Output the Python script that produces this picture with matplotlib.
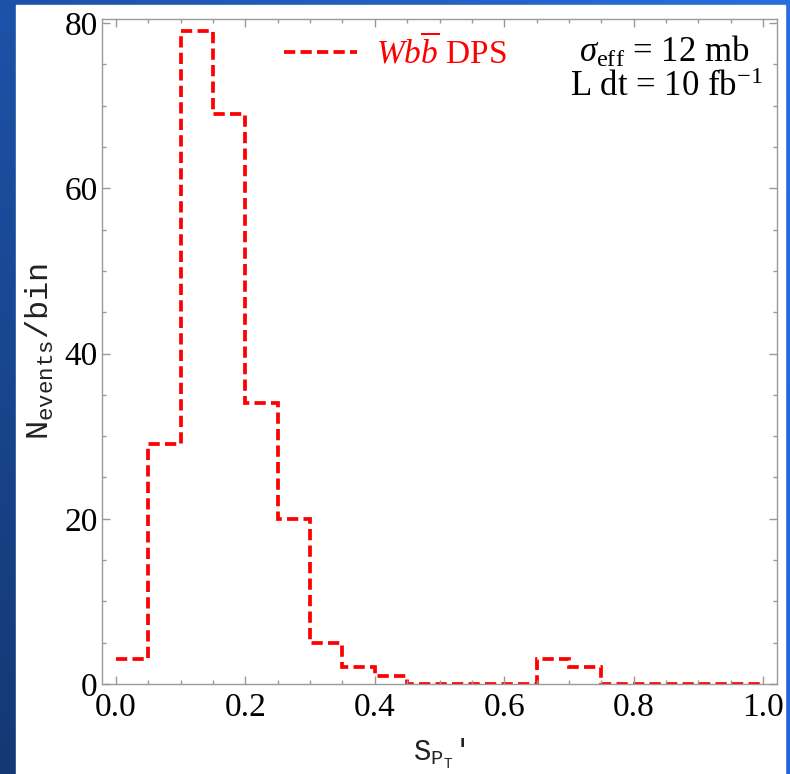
import numpy as np
import matplotlib
matplotlib.use('Agg')
import matplotlib.pyplot as plt
from matplotlib.patches import Rectangle
from matplotlib.ticker import MultipleLocator

# histogram of S_pT' for Wbb DPS, bin width 0.05
bin_edges = np.round(np.arange(0.0, 1.0001, 0.05), 2)
counts = [3, 29, 79, 69, 34, 20, 5, 2, 1, 0,
          0, 0, 0, 3, 2, 0, 0, 0, 0, 0]

legend_label = r'$Wb\overline{b}$ DPS'
info_lines = [r'$\sigma_{\rm eff}$ = 12 mb', r'L dt = 10 fb$^{-1}$']

plt.rcParams['mathtext.fontset'] = 'custom'
plt.rcParams['mathtext.rm'] = 'Liberation Serif'
plt.rcParams['mathtext.it'] = 'Liberation Serif:italic'
plt.rcParams['mathtext.tt'] = 'Liberation Mono'
plt.rcParams['font.family'] = ['Liberation Serif', 'DejaVu Sans']

W, H = 790, 774
fig = plt.figure(figsize=(W / 100, H / 100), dpi=100)

# blue gradient backdrop with white panel
bg = fig.add_axes([0, 0, 1, 1], zorder=-10)
gx = np.linspace(0, 1, 64)[None, :, None]
gy = np.linspace(0, 1, 64)[:, None, None]
c_left_top = np.array([28, 82, 168]) / 255
c_left_bot = np.array([20, 56, 116]) / 255
c_right_top = np.array([40, 110, 220]) / 255
c_right_bot = np.array([36, 102, 214]) / 255
top = c_left_top * (1 - gx) + c_right_top * gx
bot = c_left_bot * (1 - gx) + c_right_bot * gx
grad = top * (1 - gy) + bot * gy
bg.imshow(grad, aspect='auto', extent=(0, 1, 0, 1), origin='upper')
bg.add_patch(Rectangle((16 / W, 0), 769 / W, 769 / H, color='white', zorder=2))
bg.set_xlim(0, 1)
bg.set_ylim(0, 1)
bg.axis('off')

ax = fig.add_axes([102 / W, 1 - 684 / H, 675 / W, 665 / H])
ax.patch.set_alpha(0)
ax.stairs(counts, bin_edges, baseline=None, color='#ff0000', linewidth=2.7,
          linestyle=(0, (3.0, 1.4)), label=legend_label)

ax.set_xlim(-0.0216, 1.0216)
ax.set_ylim(0, 80.5)
ax.xaxis.set_minor_locator(MultipleLocator(0.05))
ax.yaxis.set_major_locator(MultipleLocator(20))
ax.yaxis.set_minor_locator(MultipleLocator(5))
ax.set_xticks(np.arange(0, 1.01, 0.2))
ax.set_xticklabels(['0.0', '0.2', '0.4', '0.6', '0.8', '1.0'])

for s in ax.spines.values():
  s.set_color('#999999')
  s.set_linewidth(1.0)
ax.tick_params(which='both', direction='in', top=True, right=True,
               color='#999999', width=1.0, labelsize=24)
ax.tick_params(which='major', length=6)
ax.tick_params(which='minor', length=3)
ax.tick_params(axis='x', pad=6)
ax.tick_params(axis='y', pad=3)

ax.set_ylabel(r'$\mathtt{N_{events}/bin}$', fontsize=23, color='#222222',
              labelpad=6)
ax.set_xlabel(r"$\mathtt{S_{P_T}}$'", fontsize=21, color='#222222',
              family='Liberation Mono', labelpad=10)

leg = ax.legend(loc='upper left', bbox_to_anchor=(0.235, 1.012), frameon=False,
                fontsize=24, handlelength=2.2, handletextpad=0.55,
                borderaxespad=0.3)
for t in leg.get_texts():
  t.set_color('#ff0000')

ax.text(0.960, 0.935, info_lines[0], transform=ax.transAxes, ha='right',
        va='baseline', fontsize=25)
ax.text(0.979, 0.884, info_lines[1], transform=ax.transAxes, ha='right',
        va='baseline', fontsize=25)

fig.savefig('out.png', dpi=100)
